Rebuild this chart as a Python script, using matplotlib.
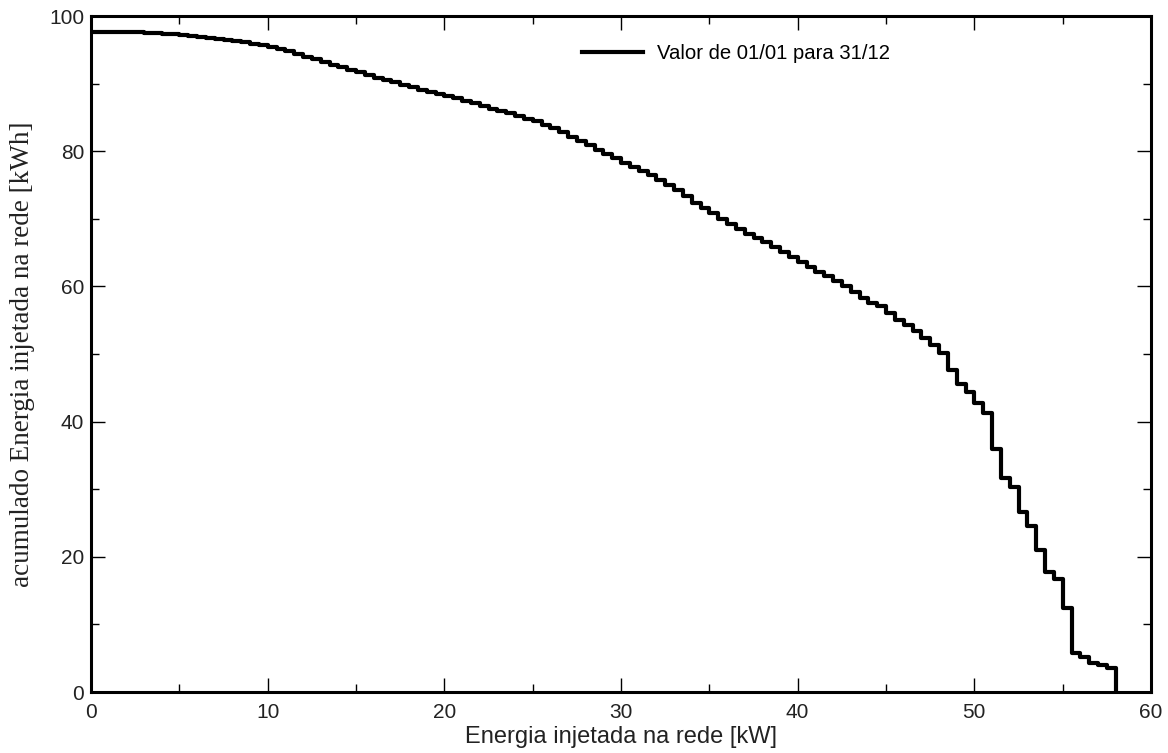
import numpy as np
import matplotlib
matplotlib.use("Agg")
import matplotlib.pyplot as plt
from matplotlib.ticker import MultipleLocator

# bins of injected power [kW], 0.5 kW wide, 0 .. 58
bin_edges = np.arange(0, 58.5, 0.5)

# cumulative energy [kWh] for each bin
energia = [
    97.7, 97.7, 97.7, 97.6, 97.6, 97.6, 97.5, 97.5, 97.4, 97.3,
    97.2, 97.1, 96.9, 96.8, 96.6, 96.5, 96.3, 96.1, 95.9, 95.7,
    95.4, 95.1, 94.8, 94.4, 94.0, 93.6, 93.2, 92.8, 92.4, 92.0,
    91.7, 91.3, 90.9, 90.6, 90.2, 89.8, 89.5, 89.1, 88.8, 88.4,
    88.1, 87.8, 87.4, 87.1, 86.7, 86.3, 85.9, 85.6, 85.2, 84.8,
    84.4, 83.9, 83.4, 82.8, 82.1, 81.5, 80.9, 80.2, 79.6, 79.0,
    78.3, 77.7, 77.1, 76.5, 75.8, 75.0, 74.2, 73.3, 72.4, 71.6,
    70.8, 70.0, 69.2, 68.5, 67.8, 67.1, 66.5, 65.8, 65.1, 64.4,
    63.6, 62.9, 62.2, 61.5, 60.8, 60.0, 59.2, 58.3, 57.6, 57.1,
    56.0, 55.1, 54.3, 53.4, 52.4, 51.4, 50.2, 47.7, 45.6, 44.4,
    42.7, 41.2, 35.9, 31.6, 30.3, 26.7, 24.5, 21.0, 17.7, 16.7,
    12.4, 5.8, 5.2, 4.3, 4.0, 3.5,
]

serie_label = "Valor de 01/01 para 31/12"
x_label = "Energia injetada na rede [kW]"
y_label = "acumulado Energia injetada na rede [kWh]"

fig = plt.figure(figsize=(11.68, 7.53), dpi=100)
ax = fig.add_axes([91 / 1168, 1 - 692 / 753, 1060 / 1168, 676 / 753])

# post-step; final point drops the line to zero at the last edge
ax.step(bin_edges, energia + [0.0], where="post", color="black", lw=3.0,
        label=serie_label)

ax.set_xlim(0, 60)
ax.set_ylim(0, 100)
ax.xaxis.set_major_locator(MultipleLocator(10))
ax.xaxis.set_minor_locator(MultipleLocator(5))
ax.yaxis.set_major_locator(MultipleLocator(20))
ax.yaxis.set_minor_locator(MultipleLocator(10))

ax.tick_params(which="both", direction="in", top=True, right=True,
               width=1.0, color="black")
ax.tick_params(which="major", length=10, labelsize=15, labelcolor="#222222")
ax.tick_params(axis="x", which="major", pad=8)
ax.tick_params(axis="y", which="major", pad=5)
ax.tick_params(which="minor", length=5.5)
for lab in ax.get_xticklabels() + ax.get_yticklabels():
    lab.set_family("Liberation Sans")
for sp in ax.spines.values():
    sp.set_linewidth(2.2)

ax.set_xlabel(x_label, family="Liberation Sans", fontsize=17,
              color="#222222", labelpad=3)
ax.set_ylabel(y_label, family="Liberation Serif", fontsize=19.5,
              color="#222222", labelpad=10)

ax.legend(loc="upper left", bbox_to_anchor=(0.463, 0.958), frameon=False,
          handlelength=3.0, handletextpad=0.7, borderpad=0, borderaxespad=0,
          prop={"family": "Liberation Sans", "size": 14.6})

fig.savefig("out.png", dpi=100)
